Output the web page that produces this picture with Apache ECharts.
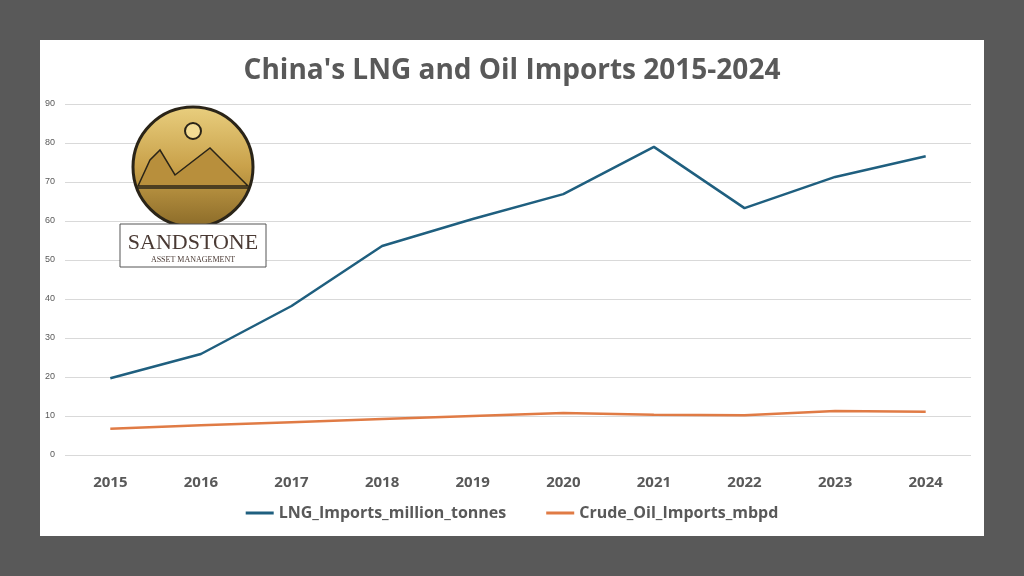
<!DOCTYPE html>
<html>
<head>
<meta charset="utf-8">
<script src="https://cdn.jsdelivr.net/npm/echarts@6/dist/echarts.min.js"></script>
<style>html,body{margin:0;padding:0;background:#595959}#chart{width:1024px;height:576px}</style>
</head>
<body>
<div id="chart"></div>
<script>
const years = ['2015', '2016', '2017', '2018', '2019', '2020', '2021', '2022', '2023', '2024']
const lngImports = [19.7, 25.9, 38.2, 53.6, 60.5, 66.9, 79.0, 63.3, 71.3, 76.6]
const oilImports = [6.7, 7.6, 8.4, 9.2, 10.0, 10.8, 10.3, 10.2, 11.3, 11.1]
const yTicks = [0, 10, 20, 30, 40, 50, 60, 70, 80, 90]

const chart = echarts.init(document.getElementById('chart'))

// logo: gold disc with mountains, plus boxed name
const logo = [
  { type: 'rect', shape: { x: 40, y: 40, width: 944, height: 496 }, style: { fill: '#fff' }, z: -10 },
  {
    type: 'circle', shape: { cx: 193, cy: 167, r: 60 }, z: 10,
    style: {
      fill: new echarts.graphic.LinearGradient(0, 0, 0, 1, [
        { offset: 0, color: '#e9cf7f' }, { offset: 0.5, color: '#c9a14a' }, { offset: 1, color: '#8a6a28' }
      ]),
      stroke: '#2a2418', lineWidth: 3
    }
  },
  { type: 'circle', shape: { cx: 193, cy: 131, r: 8 }, style: { fill: '#f3dc95', stroke: '#2a2418', lineWidth: 2 }, z: 11 },
  { type: 'polygon', shape: { points: [[138, 186], [150, 160], [160, 150], [175, 175], [210, 148], [248, 186]] }, style: { fill: '#b88f3c', stroke: '#2a2418', lineWidth: 1.5 }, z: 11 },
  { type: 'line', shape: { x1: 136, y1: 188, x2: 250, y2: 188 }, style: { stroke: '#2a2418', lineWidth: 1.5 }, z: 11 },
  { type: 'rect', shape: { x: 120, y: 224, width: 146, height: 43 }, style: { fill: '#fff', stroke: '#555', lineWidth: 1 }, z: 12 },
  { type: 'text', x: 193, y: 243, style: { text: 'SANDSTONE', font: '22px "Liberation Serif"', fill: '#4a3a34', align: 'center', verticalAlign: 'middle' }, z: 13 },
  { type: 'text', x: 193, y: 260, style: { text: 'ASSET MANAGEMENT', font: '8px "Liberation Serif"', fill: '#4a3a34', align: 'center', verticalAlign: 'middle' }, z: 13 }
]

chart.setOption({
  backgroundColor: '#595959',
  color: ['#1f5f7f', '#e07b45'],
  title: {
    text: "China's LNG and Oil Imports 2015-2024",
    left: 'center', top: 52,
    textStyle: { fontFamily: 'Open Sans', fontSize: 28, fontWeight: 'bold', color: '#595959' }
  },
  legend: {
    bottom: 50, itemGap: 40, itemWidth: 28, itemHeight: 3,
    icon: 'rect',
    textStyle: { fontFamily: 'Open Sans', fontSize: 16, fontWeight: 'bold', color: '#595959' },
    data: ['LNG_Imports_million_tonnes', 'Crude_Oil_Imports_mbpd']
  },
  grid: { left: 65, right: 53, top: 104, bottom: 121, containLabel: false },
  xAxis: {
    type: 'category', data: years, boundaryGap: true,
    axisLine: { show: false }, axisTick: { show: false },
    axisLabel: { margin: 20, fontFamily: 'Open Sans', fontSize: 15, fontWeight: 'bold', color: '#595959' }
  },
  yAxis: {
    type: 'value', min: yTicks[0], max: yTicks[yTicks.length - 1], interval: 10,
    axisLabel: { fontSize: 9, color: '#595959', margin: 10 },
    splitLine: { lineStyle: { color: '#d9d9d9' } }
  },
  graphic: logo,
  series: [
    { name: 'LNG_Imports_million_tonnes', type: 'line', data: lngImports, symbol: 'none', lineStyle: { width: 2.5 } },
    { name: 'Crude_Oil_Imports_mbpd', type: 'line', data: oilImports, symbol: 'none', lineStyle: { width: 2.5 } }
  ]
})
</script>
</body>
</html>
